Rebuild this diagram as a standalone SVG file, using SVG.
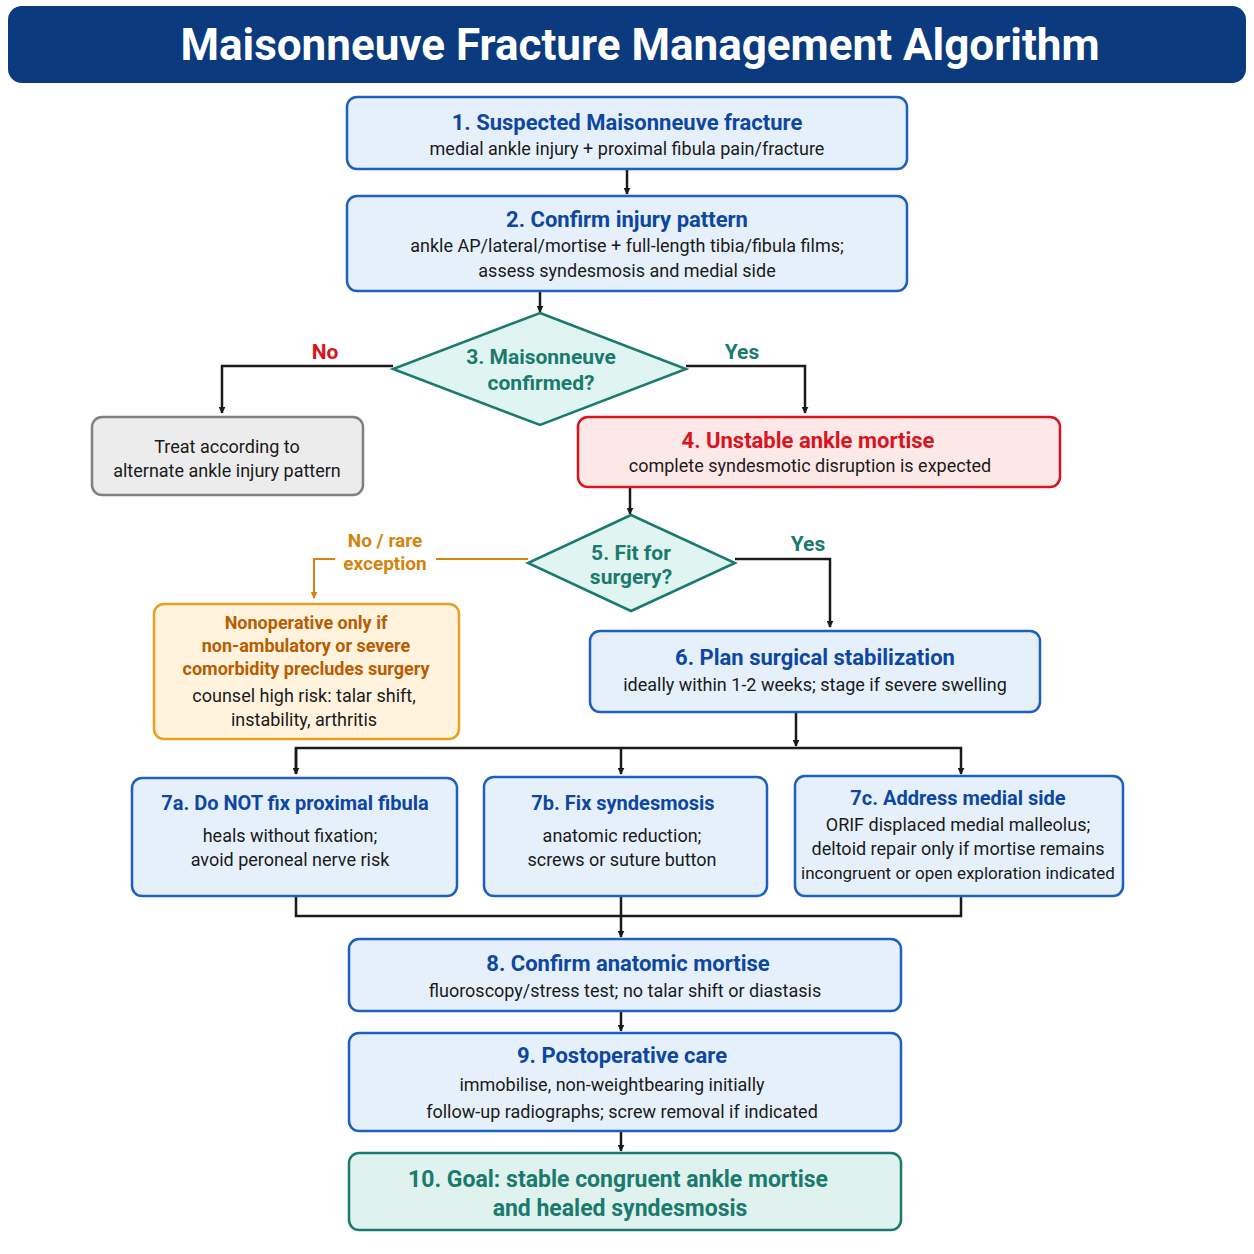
<svg xmlns="http://www.w3.org/2000/svg" width="1254" height="1254" viewBox="0 0 1254 1254">
<defs>
<marker id="ah" viewBox="0 0 10 10" refX="9" refY="5" markerWidth="7" markerHeight="7" orient="auto" markerUnits="userSpaceOnUse"><path d="M0,0 L10,5 L0,10 z" fill="#1a1a1a"/></marker>
<marker id="ao" viewBox="0 0 10 10" refX="9" refY="5" markerWidth="7" markerHeight="7" orient="auto" markerUnits="userSpaceOnUse"><path d="M0,0 L10,5 L0,10 z" fill="#d4840a"/></marker>
<style>
text{font-family:Roboto,"Liberation Sans",sans-serif;text-anchor:middle}
.box{fill:#e6f0fb;stroke:#1f5fbf;stroke-width:2.5}
.t{font-size:22px;font-weight:bold;fill:#0d47a1}
.s{font-size:18px;fill:#1a1a1a}
.dia{fill:#e0f4f1;stroke:#1a7a6e;stroke-width:2.5}
.dt{font-size:21px;font-weight:bold;fill:#1a7a6e}
.ln{fill:none;stroke:#1a1a1a;stroke-width:2.5}
.lo{fill:none;stroke:#d4840a;stroke-width:2}
</style>
</defs>
<g id="title"><rect x="8" y="6" width="1238" height="77" rx="14" fill="#0b3a7e"/><text x="640" y="60" font-size="44" font-weight="bold" fill="#fff">Maisonneuve Fracture Management Algorithm</text></g>
<g id="connectors">
<path class="ln" d="M627,169 V194" marker-end="url(#ah)"/>
<path class="ln" d="M540,291 V312" marker-end="url(#ah)"/>
<path class="ln" d="M393,366 H222 V413" marker-end="url(#ah)"/>
<path class="ln" d="M686,366 H805 V413" marker-end="url(#ah)"/>
<path class="ln" d="M630,487 V514" marker-end="url(#ah)"/>
<path class="lo" d="M528,559 H436 M335,559 H314 V598" marker-end="url(#ao)"/>
<path class="ln" d="M735,559 H830 V627" marker-end="url(#ah)"/>
<path class="ln" d="M796,712 V746"  marker-end="url(#ah)"/>
<path class="ln" d="M296,774 V748 H961 V774" marker-end="url(#ah)"/>
<path class="ln" d="M296,748 V774" marker-end="url(#ah)"/>
<path class="ln" d="M621,748 V774" marker-end="url(#ah)"/>
<path class="ln" d="M296,896 V916 H961 V896 M621,896 V937" marker-end="url(#ah)"/>
<path class="ln" d="M621,1011 V1031" marker-end="url(#ah)"/>
<path class="ln" d="M621,1131 V1151" marker-end="url(#ah)"/>
<text x="325" y="359" font-size="21" font-weight="bold" fill="#d9141e">No</text>
<text x="742" y="359" font-size="21" font-weight="bold" fill="#1a7a6e">Yes</text>
<text x="385" y="547" font-size="19" font-weight="bold" fill="#d4840a">No / rare</text>
<text x="385" y="570" font-size="19" font-weight="bold" fill="#d4840a">exception</text>
<text x="808" y="551" font-size="21" font-weight="bold" fill="#1a7a6e">Yes</text>
</g>
<g id="n1"><rect class="box" x="347" y="97" width="560" height="72" rx="10"/><text class="t" x="627" y="130">1. Suspected Maisonneuve fracture</text><text class="s" x="627" y="155">medial ankle injury + proximal fibula pain/fracture</text></g>
<g id="n2"><rect class="box" x="347" y="196" width="560" height="95" rx="10"/><text class="t" x="627" y="227">2. Confirm injury pattern</text><text class="s" x="627" y="252">ankle AP/lateral/mortise + full-length tibia/fibula films;</text><text class="s" x="627" y="277">assess syndesmosis and medial side</text></g>
<g id="n3"><polygon class="dia" points="540,313 686,369 540,425 393,369"/><text class="dt" x="541" y="364">3. Maisonneuve</text><text class="dt" x="541" y="390">confirmed?</text></g>
<g id="nalt"><rect x="92" y="417" width="271" height="78" rx="10" fill="#ececec" stroke="#808080" stroke-width="2.5"/><text class="s" x="227" y="453">Treat according to</text><text class="s" x="227" y="477">alternate ankle injury pattern</text></g>
<g id="n4"><rect x="578" y="417" width="482" height="70" rx="10" fill="#fde8e8" stroke="#d9141e" stroke-width="2.5"/><text class="t" x="808" y="448" fill="#d9141e" style="fill:#d9141e">4. Unstable ankle mortise</text><text class="s" x="810" y="472">complete syndesmotic disruption is expected</text></g>
<g id="n5"><polygon class="dia" points="631,515 735,563 631,611 528,563"/><text class="dt" x="631" y="560">5. Fit for</text><text class="dt" x="631" y="584">surgery?</text></g>
<g id="nnon"><rect x="154" y="604" width="305" height="135" rx="10" fill="#fff3de" stroke="#e8a020" stroke-width="2.5"/><text x="306" y="629" font-size="18" font-weight="bold" fill="#b85c00">Nonoperative only if</text><text x="306" y="652" font-size="18" font-weight="bold" fill="#b85c00">non-ambulatory or severe</text><text x="306" y="675" font-size="18" font-weight="bold" fill="#b85c00">comorbidity precludes surgery</text><text class="s" x="304" y="702">counsel high risk: talar shift,</text><text class="s" x="304" y="726">instability, arthritis</text></g>
<g id="n6"><rect class="box" x="590" y="631" width="450" height="81" rx="10"/><text class="t" x="815" y="665">6. Plan surgical stabilization</text><text class="s" x="815" y="691">ideally within 1-2 weeks; stage if severe swelling</text></g>
<g id="n7a"><rect class="box" x="132" y="778" width="325" height="118" rx="10"/><text class="t" x="295" y="810" style="font-size:20px">7a. Do NOT fix proximal fibula</text><text class="s" x="290" y="842">heals without fixation;</text><text class="s" x="290" y="866">avoid peroneal nerve risk</text></g>
<g id="n7b"><rect class="box" x="484" y="777" width="283" height="119" rx="10"/><text class="t" x="623" y="810" style="font-size:20px">7b. Fix syndesmosis</text><text class="s" x="622" y="842">anatomic reduction;</text><text class="s" x="622" y="866">screws or suture button</text></g>
<g id="n7c"><rect class="box" x="795" y="776" width="328" height="120" rx="10"/><text class="t" x="958" y="805" style="font-size:20px">7c. Address medial side</text><text class="s" x="958" y="831">ORIF displaced medial malleolus;</text><text class="s" x="958" y="855">deltoid repair only if mortise remains</text><text class="s" x="958" y="879" style="font-size:17px">incongruent or open exploration indicated</text></g>
<g id="n8"><rect class="box" x="349" y="939" width="552" height="72" rx="10"/><text class="t" x="628" y="971">8. Confirm anatomic mortise</text><text class="s" x="625" y="997">fluoroscopy/stress test; no talar shift or diastasis</text></g>
<g id="n9"><rect class="box" x="349" y="1033" width="552" height="98" rx="10"/><text class="t" x="622" y="1063">9. Postoperative care</text><text class="s" x="612" y="1091">immobilise, non-weightbearing initially</text><text class="s" x="622" y="1118">follow-up radiographs; screw removal if indicated</text></g>
<g id="n10"><rect x="349" y="1153" width="552" height="77" rx="10" fill="#e0f2ee" stroke="#1a7a6e" stroke-width="2.5"/><text x="618" y="1187" font-size="23" font-weight="bold" fill="#1a7a6e">10. Goal: stable congruent ankle mortise</text><text x="620" y="1216" font-size="23" font-weight="bold" fill="#1a7a6e">and healed syndesmosis</text></g>
</svg>
